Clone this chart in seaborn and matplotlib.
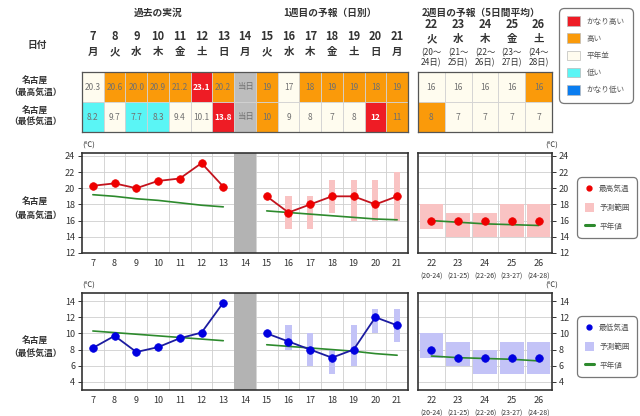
import numpy as np
import matplotlib
matplotlib.use('Agg')
import matplotlib.pyplot as plt
import seaborn as sns
from matplotlib.patches import Patch
from matplotlib.lines import Line2D

# ---------------- data ----------------
days = [7, 8, 9, 10, 11, 12, 13, 14, 15, 16, 17, 18, 19, 20, 21]
weekdays = ['月', '火', '水', '木', '金', '土', '日', '月', '火', '水', '木', '金', '土', '日', '月']
days_w2 = [22, 23, 24, 25, 26]
weekdays_w2 = ['火', '水', '木', '金', '土']
period_start_w2 = ['20', '21', '22', '23', '24']
period_end_w2 = ['24', '25', '26', '27', '28']

tmax_text = ['20.3', '20.6', '20.0', '20.9', '21.2', '23.1', '20.2', '当日',
             '19', '17', '18', '19', '19', '18', '19']
tmax_class = ['N', 'H', 'H', 'H', 'H', 'VH', 'H', 'T', 'H', 'N', 'H', 'H', 'H', 'H', 'H']
tmin_text = ['8.2', '9.7', '7.7', '8.3', '9.4', '10.1', '13.8', '当日',
             '10', '9', '8', '7', '8', '12', '11']
tmin_class = ['L', 'N', 'L', 'L', 'N', 'N', 'VH', 'T', 'H', 'N', 'N', 'N', 'N', 'VH', 'H']
tmax_text_w2 = ['16', '16', '16', '16', '16']
tmax_class_w2 = ['N', 'N', 'N', 'N', 'H']
tmin_text_w2 = ['8', '7', '7', '7', '7']
tmin_class_w2 = ['H', 'N', 'N', 'N', 'N']

days_past = [7, 8, 9, 10, 11, 12, 13]
tmax_obs = [20.3, 20.6, 20.0, 20.9, 21.2, 23.1, 20.2]
tmin_obs = [8.2, 9.7, 7.7, 8.3, 9.4, 10.1, 13.8]
tmax_norm_past = [19.2, 19.0, 18.7, 18.5, 18.2, 17.9, 17.7]
tmin_norm_past = [10.3, 10.1, 9.9, 9.7, 9.5, 9.3, 9.1]

days_w1 = [15, 16, 17, 18, 19, 20, 21]
tmax_fc = [19, 17, 18, 19, 19, 18, 19]
tmin_fc = [10, 9, 8, 7, 8, 12, 11]
tmax_norm_w1 = [17.2, 17.0, 16.8, 16.6, 16.4, 16.2, 16.1]
tmin_norm_w1 = [8.6, 8.4, 8.2, 8.0, 7.8, 7.5, 7.3]
range_days_w1 = [16, 17, 18, 19, 20, 21]
tmax_lo_w1 = [15, 15, 17, 16, 16, 16]
tmax_hi_w1 = [19, 19, 21, 21, 21, 22]
tmin_lo_w1 = [8, 6, 5, 6, 10, 9]
tmin_hi_w1 = [11, 10, 8, 11, 13, 13]

tmax_fc_w2 = [16, 16, 16, 16, 16]
tmin_fc_w2 = [8, 7, 7, 7, 7]
tmax_norm_w2 = [16.0, 15.8, 15.6, 15.5, 15.4]
tmin_norm_w2 = [7.2, 7.0, 6.9, 6.8, 6.6]
tmax_lo_w2 = [15, 14, 14, 14, 14]
tmax_hi_w2 = [18, 17, 17, 18, 18]
tmin_lo_w2 = [7, 6, 5, 5, 5]
tmin_hi_w2 = [10, 9, 8, 9, 9]

class_order = ['VH', 'H', 'N', 'L', 'VL']
class_labels = ['かなり高い', '高い', '平年並', '低い', 'かなり低い']

# ---------------- style ----------------
sns.set_style('white')
plt.rcParams['font.family'] = ['Noto Sans CJK JP', 'DejaVu Sans']

class_colors = {'VH': '#ee1c25', 'H': '#fa9a0a', 'N': '#fffcef',
                'L': '#5af5f5', 'VL': '#0a7df0', 'T': '#bdbdbd'}
RED_LINE, RED_PT, RED_RNG = '#c3141e', '#ee0000', '#f9c3c3'
BLU_LINE, BLU_PT, BLU_RNG = '#1c1ca0', '#0000e0', '#c3c3f7'
GREEN = '#2d8a2d'
FRAME = '#333333'
TXT = '#333333'

W, H = 640, 416
fig = plt.figure(figsize=(W / 100, H / 100), dpi=100)


def px(l, t, r, b):
    return [l / W, 1 - b / H, (r - l) / W, (b - t) / H]


def ftext(x, y, s, **kw):
    fig.text(x / W, 1 - y / H, s, ha='center', va='center', **kw)


# ---------------- headers ----------------
ftext(158, 13, '過去の実況', fontsize=7, color=TXT, fontweight='bold')
ftext(330, 13, '1週目の予報（日別）', fontsize=7, color=TXT, fontweight='bold')
ftext(481, 13, '2週目の予報（5日間平均）', fontsize=7, color=TXT, fontweight='bold')
ftext(37, 45, '日付', fontsize=7, color=TXT, fontweight='bold')
ftext(35, 87, '名古屋\n（最高気温）', fontsize=6.3, color=TXT, fontweight='bold', linespacing=1.35)
ftext(35, 117, '名古屋\n（最低気温）', fontsize=6.3, color=TXT, fontweight='bold', linespacing=1.35)
ftext(35, 209, '名古屋\n（最高気温）', fontsize=6.3, color=TXT, fontweight='bold', linespacing=1.6)
ftext(35, 348, '名古屋\n（最低気温）', fontsize=6.3, color=TXT, fontweight='bold', linespacing=1.6)


# ---------------- tables ----------------
def draw_table(ax, xs, rows_text, rows_class, xlim):
    ax.set_xlim(*xlim)
    ax.set_ylim(2, 0)
    for r, (texts, classes) in enumerate(zip(rows_text, rows_class)):
        cols = [class_colors[c] for c in classes]
        ax.bar(xs, 1, bottom=r, width=1, color=cols, edgecolor='#d2d2d2',
               linewidth=0.6, align='center')
        for x, t, c in zip(xs, texts, classes):
            if c == 'VH':
                ax.text(x, r + 0.5, t, ha='center', va='center', fontsize=6,
                        color='white', fontweight='bold')
            else:
                ax.text(x, r + 0.5, t, ha='center', va='center', fontsize=6,
                        color='#707070')
    ax.set_xticks([])
    ax.set_yticks([])
    for s in ax.spines.values():
        s.set_color('#555555')
        s.set_linewidth(0.9)


tab1 = fig.add_axes(px(82, 72, 408, 132))
draw_table(tab1, days, [tmax_text, tmin_text], [tmax_class, tmin_class], (6.5, 21.5))
for d, wd in zip(days, weekdays):
    tab1.text(d, -1.17, str(d), ha='center', va='center', fontsize=8, color=TXT,
              fontweight='bold', clip_on=False)
    tab1.text(d, -0.67, wd, ha='center', va='center', fontsize=7.5, color=TXT,
              fontweight='bold', clip_on=False)

tab2 = fig.add_axes(px(418, 72, 552, 132))
draw_table(tab2, days_w2, [tmax_text_w2, tmin_text_w2], [tmax_class_w2, tmin_class_w2], (21.5, 26.5))
for d, wd, s0, s1 in zip(days_w2, weekdays_w2, period_start_w2, period_end_w2):
    tab2.text(d, -1.57, str(d), ha='center', va='center', fontsize=8, color=TXT,
              fontweight='bold', clip_on=False)
    tab2.text(d, -1.1, wd, ha='center', va='center', fontsize=7.5, color=TXT,
              fontweight='bold', clip_on=False)
    tab2.text(d, -0.66, f'({s0}～', ha='center', va='center', fontsize=6, color=TXT,
              clip_on=False)
    tab2.text(d, -0.3, f'{s1}日)', ha='center', va='center', fontsize=6, color=TXT,
              clip_on=False)

# table legend
tab_handles = [Patch(facecolor=class_colors[c], edgecolor='#bbbbbb', linewidth=0.5)
               for c in class_order]
leg = fig.legend(tab_handles, class_labels, loc='upper left',
                 bbox_to_anchor=(559 / W, 1 - 8 / H), fontsize=5.5,
                 handlelength=1.6, handleheight=1.6, labelspacing=0.95,
                 borderpad=1.1, handletextpad=0.9, borderaxespad=0,
                 fancybox=True, frameon=True)
leg.get_frame().set_edgecolor('#555555')
leg.get_frame().set_linewidth(0.9)
leg.get_frame().set_boxstyle('round,pad=0,rounding_size=0.6')
for t in leg.get_texts():
    t.set_color('#555555')


# ---------------- charts ----------------
def style_axis(ax, xs, xlim, ylim, yticks, right=False):
    ax.set_xlim(*xlim)
    ax.set_ylim(*ylim)
    half = np.arange(xlim[0] + 1, xlim[1], 1.0)
    ax.set_xticks(half)
    ax.set_xticks(xs, minor=True)
    ax.set_xticklabels([str(x) for x in xs], minor=True)
    ax.tick_params(axis='x', which='major', length=3, width=0.7, color=FRAME,
                   labelbottom=False, direction='out')
    ax.tick_params(axis='x', which='minor', length=0, labelsize=6.5,
                   labelcolor=TXT, pad=4)
    ax.set_yticks(yticks)
    ax.tick_params(axis='y', length=3, width=0.7, color=FRAME, labelsize=6.5,
                   labelcolor=TXT, pad=2, direction='out',
                   left=not right, labelleft=not right,
                   right=right, labelright=right)
    ax.grid(True, axis='x', which='major', color='#cfcfcf', linewidth=0.6)
    ax.grid(True, axis='y', which='major', color='#cfcfcf', linewidth=0.6)
    ax.set_axisbelow(True)
    for s in ax.spines.values():
        s.set_color(FRAME)
        s.set_linewidth(1.2)
    ax.set_xlabel('')
    ax.set_ylabel('')


def draw_week12(ax, obs, norm_past, fc, norm_w1, lo, hi, line_c, pt_c, rng_c):
    ax.axvspan(13.5, 14.5, color='#b3b3b3', zorder=1.5, linewidth=0)
    ax.bar(range_days_w1, np.array(hi) - np.array(lo), bottom=lo, width=0.28,
           color=rng_c, zorder=2, linewidth=0)
    sns.lineplot(x=days_past, y=norm_past, ax=ax, color=GREEN, linewidth=1.2, zorder=3)
    sns.lineplot(x=days_w1, y=norm_w1, ax=ax, color=GREEN, linewidth=1.2, zorder=3)
    for xs, ys in ((days_past, obs), (days_w1, fc)):
        sns.lineplot(x=xs, y=ys, ax=ax, color=line_c, linewidth=1.3, marker='o',
                     markersize=5.5, markerfacecolor=pt_c, markeredgecolor=pt_c,
                     markeredgewidth=0.5, zorder=4)


def draw_week2(ax, fc, norm, lo, hi, pt_c, rng_c):
    ax.bar(days_w2, np.array(hi) - np.array(lo), bottom=lo, width=0.88,
           color=rng_c, zorder=2, linewidth=0)
    sns.lineplot(x=days_w2, y=norm, ax=ax, color=GREEN, linewidth=1.2, zorder=3)
    sns.scatterplot(x=days_w2, y=fc, ax=ax, color=pt_c, s=30, edgecolor=pt_c,
                    linewidth=0.5, zorder=4)
    for d, s0, s1 in zip(days_w2, period_start_w2, period_end_w2):
        ax.annotate(f'({s0}-{s1})', xy=(d, 0), xycoords=('data', 'axes fraction'),
                    xytext=(0, -14), textcoords='offset points', ha='center',
                    va='top', fontsize=5, color=TXT)


def chart_legend(ax_anchor_top, label, pt_c, rng_c):
    handles = [Line2D([], [], linestyle='none', marker='o', markersize=3.5,
                      markerfacecolor=pt_c, markeredgecolor=pt_c),
               Patch(facecolor=rng_c, edgecolor='none'),
               Line2D([], [], color=GREEN, linewidth=2.2)]
    lg = fig.legend(handles, [label, '予測範囲', '平年値'], loc='upper left',
                    bbox_to_anchor=(577 / W, 1 - ax_anchor_top / H), fontsize=5.5,
                    handlelength=1.2, handleheight=1.3, labelspacing=1.3,
                    borderpad=1.0, handletextpad=0.7, borderaxespad=0,
                    fancybox=True, frameon=True)
    lg.get_frame().set_edgecolor('#555555')
    lg.get_frame().set_linewidth(0.9)
    lg.get_frame().set_boxstyle('round,pad=0,rounding_size=0.6')
    for t in lg.get_texts():
        t.set_color('#555555')


# max temp charts
ax1 = fig.add_axes(px(82, 153, 408, 253))
draw_week12(ax1, tmax_obs, tmax_norm_past, tmax_fc, tmax_norm_w1,
            tmax_lo_w1, tmax_hi_w1, RED_LINE, RED_PT, RED_RNG)
style_axis(ax1, days, (6.5, 21.5), (12, 24.35), np.arange(12, 25, 2))
ax1.text(0, 1.03, '(℃)', transform=ax1.transAxes, fontsize=5.5, color=TXT,
         ha='left', va='bottom')

ax2 = fig.add_axes(px(418, 153, 552, 253))
draw_week2(ax2, tmax_fc_w2, tmax_norm_w2, tmax_lo_w2, tmax_hi_w2, RED_PT, RED_RNG)
style_axis(ax2, days_w2, (21.5, 26.5), (12, 24.35), np.arange(12, 25, 2), right=True)
ax2.text(1.0, 1.03, '(℃)', transform=ax2.transAxes, fontsize=5.5, color=TXT,
         ha='center', va='bottom')
chart_legend(177, '最高気温', RED_PT, RED_RNG)

# min temp charts
ax3 = fig.add_axes(px(82, 293, 408, 390))
draw_week12(ax3, tmin_obs, tmin_norm_past, tmin_fc, tmin_norm_w1,
            tmin_lo_w1, tmin_hi_w1, BLU_LINE, BLU_PT, BLU_RNG)
style_axis(ax3, days, (6.5, 21.5), (3, 15), np.arange(4, 15, 2))
ax3.text(0, 1.03, '(℃)', transform=ax3.transAxes, fontsize=5.5, color=TXT,
         ha='left', va='bottom')

ax4 = fig.add_axes(px(418, 293, 552, 390))
draw_week2(ax4, tmin_fc_w2, tmin_norm_w2, tmin_lo_w2, tmin_hi_w2, BLU_PT, BLU_RNG)
style_axis(ax4, days_w2, (21.5, 26.5), (3, 15), np.arange(4, 15, 2), right=True)
ax4.text(1.0, 1.03, '(℃)', transform=ax4.transAxes, fontsize=5.5, color=TXT,
         ha='center', va='bottom')
chart_legend(316, '最低気温', BLU_PT, BLU_RNG)

for ax in (ax1, ax2, ax3, ax4):
    lg = ax.get_legend()
    if lg is not None:
        lg.remove()

fig.savefig('out.png', dpi=100)
